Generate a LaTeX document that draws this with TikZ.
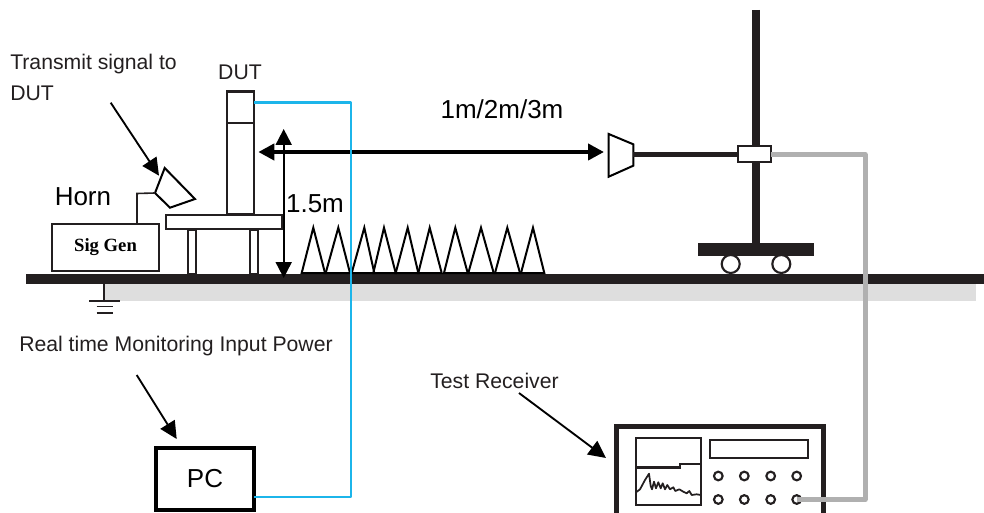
\documentclass[tikz,border=0pt]{standalone}
\usepackage{fontspec}
\setmainfont{Liberation Sans}
\newfontfamily\sigfont{Liberation Serif}
\usetikzlibrary{arrows.meta}
\definecolor{ink}{HTML}{231F20}
\definecolor{shadegray}{HTML}{DEDEDE}
\definecolor{cablegray}{HTML}{B0B0B0}
\definecolor{cableblue}{HTML}{1CB5EA}
\tikzset{
  smalltext/.style={font=\fontsize{15.9}{23.25}\selectfont,text=ink,inner sep=0pt},
  bigtext/.style={font=\fontsize{19.5}{23}\selectfont,text=black,inner sep=0pt},
  box/.style={draw=ink,line width=1.5pt,fill=white,inner sep=0pt,outer sep=0pt},
  solid block/.style={fill=ink,inner sep=0pt,outer sep=0pt},
  knob/.style={circle,draw=ink,line width=1.6pt,fill=white,inner sep=0pt,outer sep=0pt,minimum size=6.5pt},
  wheel/.style={circle,draw=ink,line width=1.6pt,fill=white,inner sep=0pt,outer sep=0pt,minimum size=13.5pt},
  pointer/.style={draw=black,line width=1.4pt,-{Triangle[length=13pt,width=12.5pt]}},
  measure/.style={draw=black,{Triangle[length=12pt,width=12pt]}-{Triangle[length=12pt,width=12pt]}},
  absorber/.style={draw=black,line width=1.5pt,line join=miter},
  bluecable/.style={draw=cableblue,line width=1.8pt,line join=round},
  graycable/.style={draw=cablegray,line width=3.4pt,line join=round}
}
\begin{document}
\begin{tikzpicture}[x=0.75pt,y=-0.75pt]
\useasboundingbox (0,0) rectangle (984,513);
\node[fill=shadegray,inner sep=0pt,outer sep=0pt,minimum width=653.25pt,minimum height=12.5pt] (shade) at (540.5,292.3) {};
\node[solid block,minimum width=718.5pt,minimum height=7.5pt] (floor) at (505,279) {};
\coordinate (gnd) at (104.3,301);
\draw[draw=ink,line width=1.3pt] (gnd |- floor.south) -- (gnd);
\draw[draw=ink,line width=1.3pt] (89,301) -- (120,301);
\draw[draw=ink,line width=1.3pt] (96.7,306.5) -- (112.7,306.5);
\draw[draw=ink,line width=1.3pt] (96.7,312.7) -- (112.7,312.7);
\draw[absorber] (301.7,273) -- (313.3,227.7) -- (325,273) -- cycle;
\draw[absorber] (325.7,273) -- (338.3,227.7) -- (350,273) -- cycle;
\draw[absorber] (351.7,273) -- (364.3,227.7) -- (374.3,273) -- cycle;
\draw[absorber] (373.3,273) -- (384,227.7) -- (395.7,273) -- cycle;
\draw[absorber] (395.7,273) -- (407.7,227.7) -- (418.3,273) -- cycle;
\draw[absorber] (418.3,273) -- (429.7,227.7) -- (441.7,273) -- cycle;
\draw[absorber] (444,273) -- (455.3,227.7) -- (467.7,273) -- cycle;
\draw[absorber] (468.3,273) -- (481,227.7) -- (493.7,273) -- cycle;
\draw[absorber] (495,273) -- (507.3,227.7) -- (520,273) -- cycle;
\draw[absorber] (521,273) -- (533,227.7) -- (544.3,273) -- cycle;
\node[box,minimum width=80.25pt,minimum height=35.25pt,font=\sigfont\bfseries\fontsize{14}{16}\selectfont] (siggen) at (105.5,247.5) {Sig Gen};
\node[box,minimum width=6pt,minimum height=33pt] (legleft) at (192,252) {};
\node[box,minimum width=6pt,minimum height=33pt] (legright) at (254,252) {};
\node[box,minimum width=87pt,minimum height=10.5pt] (table) at (224,222) {};
\node[box,line width=1.7pt,minimum width=20.25pt,minimum height=91.9pt] (dut) at (240.5,152.75) {};
\coordinate (dutsplit) at (240.5,123);
\draw[draw=ink,line width=1.7pt] (dutsplit -| dut.west) -- (dutsplit -| dut.east);
\coordinate (hornwire) at (155,193);
\draw[absorber,fill=white] (164.7,168) -- (195,199) -- (170,207.7) -- (hornwire) -- cycle;
\coordinate (wirecorner) at (137,193.5);
\draw[draw=ink,line width=1.2pt] (hornwire) -- (wirecorner) -- (wirecorner |- siggen.north);
\node[smalltext,anchor=west,align=left] (transmit) at (10,77.5) {Transmit signal to\\DUT};
\node[smalltext] (dutlabel) at (240,72) {DUT};
\node[bigtext,anchor=west] (horn) at (54.5,197) {Horn};
\node[bigtext] (height) at (315,204) {1.5m};
\node[bigtext] (distance) at (502,109) {1m/2m/3m};
\node[smalltext,anchor=west] (monitor) at (19,346) {Real time Monitoring Input Power};
\node[smalltext,anchor=west] (receiver) at (430,381) {Test Receiver};
\coordinate (transmitfrom) at (110.7,102.7);
\coordinate (transmitto) at (159,175.7);
\draw[pointer] (transmitfrom) -- (transmitto);
\coordinate (monitorfrom) at (136.7,375);
\coordinate (monitorto) at (176.7,439);
\draw[pointer] (monitorfrom) -- (monitorto);
\coordinate (receiverfrom) at (519,393);
\coordinate (receiverto) at (606,458);
\draw[pointer] (receiverfrom) -- (receiverto);
\coordinate (heighttop) at (283.7,129);
\coordinate (heightbottom) at (283.7,278);
\draw[measure,line width=1.5pt] (heighttop) -- (heightbottom);
\coordinate (distleft) at (258.3,152);
\coordinate (distright) at (604,152);
\draw[measure,line width=3pt] (distleft) -- (distright);
\node[draw=black,line width=3pt,fill=white,inner sep=0pt,outer sep=0pt,minimum width=73.5pt,minimum height=46.5pt,font=\fontsize{19.5}{23}\selectfont] (pc) at (205,479) {PC};
\coordinate (bluetop) at (350.7,102.7);
\coordinate (bluebottom) at (350.7,497);
\draw[bluecable] (bluetop -| dut.east) -- (bluetop) -- (bluebottom) -- (bluebottom -| pc.east);
\node[solid block,minimum width=87.5pt,minimum height=9.3pt] (cart) at (756,249.5) {};
\node[wheel] (wheelleft) at (730.7,264) {};
\node[wheel] (wheelright) at (781.3,264) {};
\coordinate (masttop) at (756,10);
\draw[draw=ink,line width=6pt] (masttop) -- (cart.north -| masttop);
\coordinate (hornrx) at (633.3,154.5);
\draw[absorber] (608.7,134) -- (633.3,144.3) -- (633.3,165.7) -- (608.7,176.7) -- cycle;
\node[box,minimum width=24.4pt,minimum height=12pt] (clamp) at (754.7,154.5) {};
\draw[draw=ink,line width=3.75pt] (hornrx) -- (clamp.west);
\draw[draw=ink,line width=3.75pt] (616.5,513) -- (616.5,426.5) -- (823.3,426.5) -- (823.3,513);
\node[box,line width=1.4pt,minimum width=48.75pt,minimum height=50pt] (screen) at (668.5,471.5) {};
\draw[draw=ink,line width=2.2pt] (screen.west |- 0,467.7) -- (680,467.7);
\draw[draw=ink,line width=1.4pt] (680,468.6) -- (680,463.7) -- (screen.east |- 0,463.7);
\draw[draw=ink,line width=1.3pt,line join=round] (636,492.3) -- (640,489.3) -- (645,480) -- (649,473.7) -- (650.7,486) -- (652,489.3) -- (654,481.7) -- (656,488.3) -- (658.3,482.3) -- (660.7,488.3) -- (662.7,483.3) -- (665,489.3) -- (667.3,485) -- (670,489.3) -- (673.3,487.3) -- (675.3,491) -- (679.3,489.3) -- (683.3,491.7) -- (686.7,493.3) -- (689.3,491) -- (691.7,495) -- (696.7,494.3) -- (700.7,495);
\node[box,line width=1.7pt,minimum width=73.5pt,minimum height=13.5pt] (display) at (759,449) {};
\node[knob] (knoba) at (718.3,476) {};
\node[knob] (knobb) at (744.3,476) {};
\node[knob] (knobc) at (770.7,476) {};
\node[knob] (knobd) at (796.7,476) {};
\node[knob] (knobe) at (718.3,499.5) {};
\node[knob] (knobf) at (744.3,499.5) {};
\node[knob] (knobg) at (770.7,499.5) {};
\node[knob] (knobh) at (796.7,499.5) {};
\coordinate (graytop) at (865.3,154.5);
\coordinate (graybottom) at (865.3,499.5);
\draw[graycable] (clamp.east) -- (graytop) -- (graybottom) -- (knobh.center);
\end{tikzpicture}
\end{document}
